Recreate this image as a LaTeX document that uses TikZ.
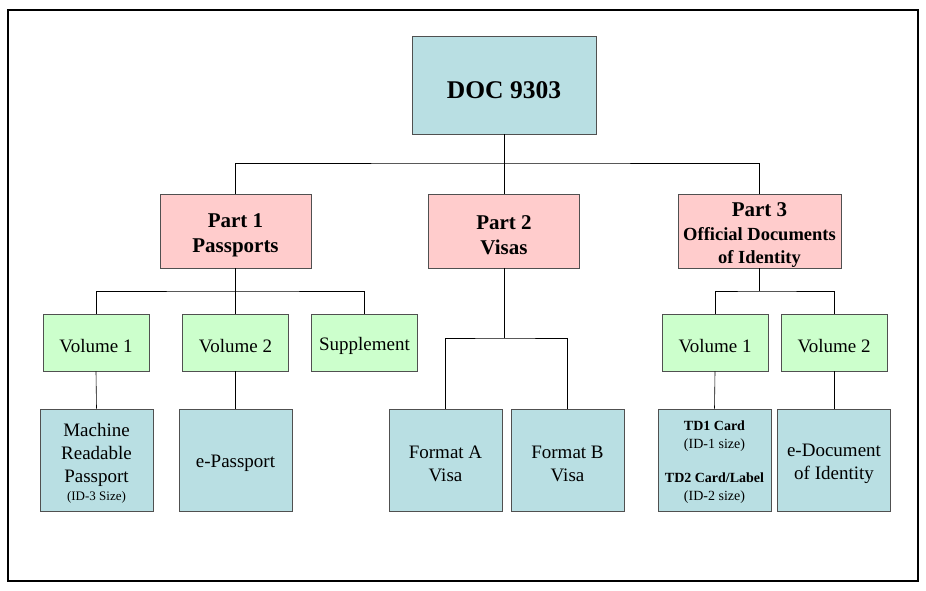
\documentclass[tikz,border=0pt]{standalone}
\usepackage{fontspec}
\setmainfont{Liberation Serif}
\usepackage{tikz}
\definecolor{docblue}{HTML}{B9DFE3}
\definecolor{partpink}{HTML}{FFCCCC}
\definecolor{volgreen}{HTML}{CCFFCC}
\definecolor{boxline}{HTML}{505050}
\newcommand{\lift}{\rule{0pt}{1.05em}}

\begin{document}
\begin{tikzpicture}[x=1pt,y=-1pt,
  box/.style={draw=boxline, line width=0.8pt, align=center, inner sep=2pt},
  docbox/.style={box, fill=docblue, minimum width=184pt, minimum height=98pt, font=\bfseries\fontsize{25.5}{30}\selectfont},
  partbox/.style={box, fill=partpink, minimum width=151pt, minimum height=74pt, font=\bfseries\fontsize{21}{25}\selectfont},
  volbox/.style={box, fill=volgreen, minimum width=106pt, minimum height=57pt, font=\fontsize{19}{22}\selectfont},
  leafbox/.style={box, fill=docblue, minimum width=113pt, minimum height=102pt, font=\fontsize{19}{23}\selectfont},
  link/.style={draw=black, line width=0.6pt}]
  \useasboundingbox (0,0) rectangle (926,590);
  % Frame
  \draw[line width=1.2pt] (8,10) rectangle (918,581);

  % Top
  \node[docbox] (doc) at (504,85) {\lift DOC 9303};

  % Parts
  \node[partbox] (p1) at (235.5,231) {\lift Part 1\\Passports};
  \node[partbox] (p2) at (504,231) {\lift Part 2\\Visas};
  \node[partbox, minimum width=163pt, inner ysep=0pt, font=\bfseries\fontsize{21}{23.5}\selectfont] (p3) at (759.5,231) {\lift Part 3\\{\fontsize{18.5}{23.5}\selectfont Official Documents}\\{\fontsize{18.5}{23.5}\selectfont of Identity}};

  % Volumes
  \node[volbox] (p1v1) at (96,342.5) {\lift Volume 1};
  \node[volbox] (p1v2) at (235.5,342.5) {\lift Volume 2};
  \node[volbox] (p1s) at (364.5,342.5) {\lift Supplement};
  \node[volbox] (p3v1) at (715,342.5) {\lift Volume 1};
  \node[volbox] (p3v2) at (834,342.5) {\lift Volume 2};

  % Documents
  \node[leafbox] (mrp) at (96.5,460) {\lift Machine\\Readable\\Passport\\[-5pt]{\fontsize{13}{15}\selectfont (ID-3 Size)}};
  \node[leafbox] (epp) at (235.5,460) {\lift e-Passport};
  \node[leafbox] (fa) at (445.5,460) {\lift Format A\\Visa};
  \node[leafbox] (fb) at (567.5,460) {\lift Format B\\Visa};
  \node[leafbox, font=\fontsize{14}{18}\selectfont] (td) at (714.5,460) {\lift\textbf{TD1 Card}\\(ID-1 size)\\[16pt]\textbf{TD2 Card/Label}\\(ID-2 size)};
  \node[leafbox] (edoc) at (834,460) {\lift e-Document\\of Identity};

  % Connectors
  \coordinate (j0) at (504,163);
  \coordinate (j1) at (235.5,291);
  \coordinate (j2) at (504,338);
  \coordinate (j3) at (759.5,291);
  \draw[link] (doc.south) -- (j0);
  \draw[link] (p1.north) |- (j0) -| (p3.north);
  \draw[link] (j0) -- (p2.north);
  \draw[link] (p1.south) -- (j1);
  \draw[link] (p1v1.north) |- (j1) -| (p1s.north);
  \draw[link] (j1) -- (p1v2.north);
  \draw[link] (p2.south) -- (j2);
  \draw[link] (fa.north) |- (j2) -| (fb.north);
  \draw[link] (p3.south) -- (j3);
  \draw[link] (p3v1.north) |- (j3) -| (p3v2.north);
  \draw[link] (p1v1.south) -- (mrp.north);
  \draw[link] (p1v2.south) -- (epp.north);
  \draw[link] (p3v1.south) -- (td.north);
  \draw[link] (p3v2.south) -- (edoc.north);
\end{tikzpicture}
\end{document}
